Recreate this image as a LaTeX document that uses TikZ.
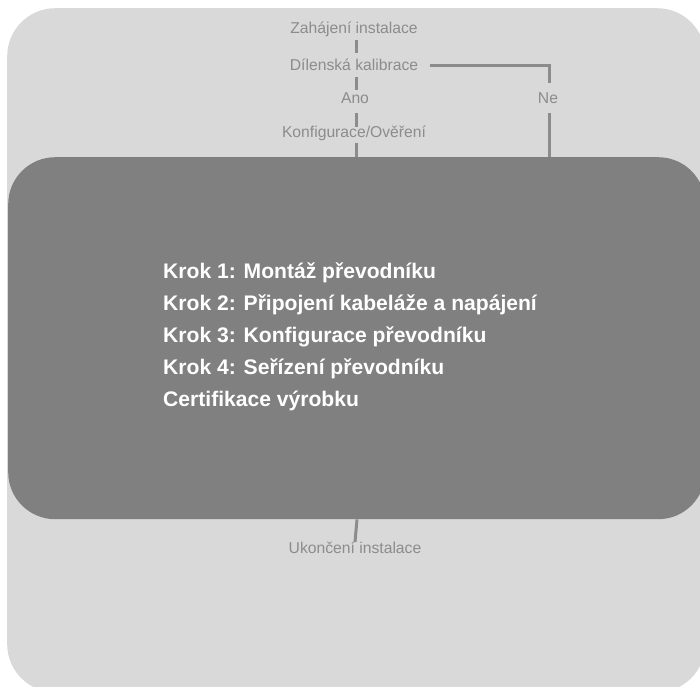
\documentclass[tikz,border=0pt]{standalone}
\usepackage{fontspec}
\setmainfont{Liberation Sans}
\usetikzlibrary{calc}
\definecolor{bgl}{HTML}{D9D9D9}
\definecolor{bgd}{HTML}{808080}
\definecolor{txg}{HTML}{8C8C8C}
\tikzset{
  lbl/.style={text=txg, inner sep=0pt, font=\fontsize{15.7}{18}\selectfont, anchor=base},
  stp/.style={text=white, inner sep=0pt, font=\fontsize{21.1}{24}\selectfont\bfseries, anchor=base west},
  ln/.style={draw=txg, line width=3pt},
}
\begin{document}
\begin{tikzpicture}[x=1pt,y=-1pt]
\useasboundingbox (0,0) rectangle (700,686);
\clip (0,0) rectangle (700,686);
\node[fill=bgl, rounded corners=48pt, inner sep=0pt, minimum width=698pt, minimum height=684pt, anchor=north west] (bg) at (7,8) {};
\node[fill=bgd, rounded corners=47pt, inner sep=0pt, minimum width=697pt, minimum height=362pt, anchor=north west] (main) at (8,157) {};
\node[lbl] (zah) at (354,33) {Zahájení instalace};
\node[lbl] (dil) at (354,70) {Dílenská kalibrace};
\node[lbl] (ano) at (355,103) {Ano};
\node[lbl] (ne) at (548,103) {Ne};
\node[lbl] (kon) at (354,137) {Konfigurace/Ověření};
\node[lbl] (uko) at (355,553) {Ukončení instalace};
\node[stp] (s1) at (163,278) {Krok 1: Montáž převodníku};
\node[stp] (s2) at (163,310) {Krok 2: Připojení kabeláže a napájení};
\node[stp] (s3) at (163,342) {Krok 3: Konfigurace převodníku};
\node[stp] (s4) at (163,374) {Krok 4: Seřízení převodníku};
\node[stp] (s5) at (163,406) {Certifikace výrobku};
\draw[ln] ($(zah.base)+(2,7)$) -- ($(dil.base)+(2,-17)$);
\draw[ln] ($(dil.base)+(2,7)$) -- ($(ano.base)+(1,-13)$);
\draw[ln] ($(ano.base)+(1,10)$) -- ($(kon.base)+(2,-10)$);
\draw[ln] ($(kon.base)+(2,6)$) -- ($(kon.base |- main.north)+(2,0)$);
\draw[ln] ($(dil.base east)+(12,-5)$) -| ($(ne.base)+(1,-20)$);
\draw[ln] ($(ne.base)+(1,10)$) -- ($(ne.base |- main.north)+(1,0)$);
\draw[ln] ($(uko.base |- main.south)+(2,0)$) -- ($(uko.base)+(0,-11)$);
\end{tikzpicture}
\end{document}
